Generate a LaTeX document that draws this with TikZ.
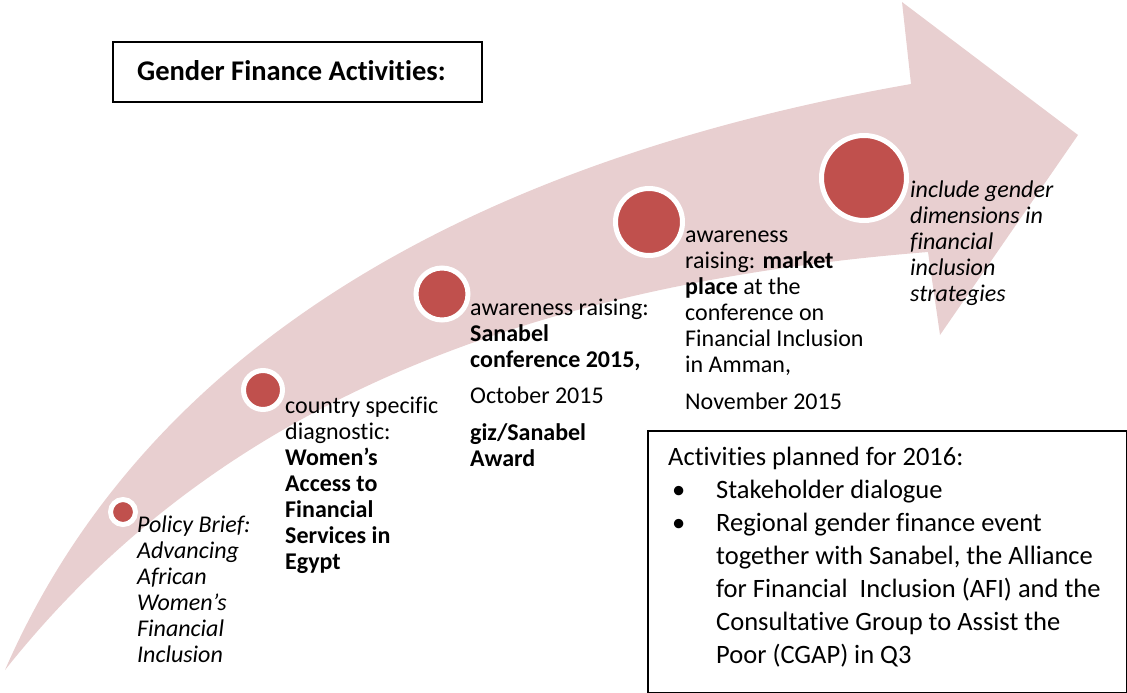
\documentclass[tikz,border=0pt]{standalone}
\usepackage{fontspec}
\setmainfont{Carlito}[Ligatures=NoCommon]
\definecolor{bandpink}{HTML}{E8CFD0}
\definecolor{dotred}{HTML}{C0504D}
\newcommand{\stack}[1]{\begin{tabular}[t]{@{}l@{}}#1\end{tabular}}
\begin{document}
\begin{tikzpicture}[x=1pt,y=-1pt,
  lbl/.style={anchor=base west, inner sep=0pt, font=\fontsize{24}{26}\selectfont},
  dot/.style={circle, fill=dotred, draw=white, inner sep=0pt},
  frame/.style={draw=black, line width=2pt, inner sep=0pt, anchor=north west},
]
\useasboundingbox (0,0) rectangle (1127,693);

% curved arrow band
\fill[bandpink] (5,670) .. controls (140,360) and (450,165) .. (911,84)
  -- (902,2) -- (1078,135) -- (940,335) -- (928,252)
  .. controls (450,290) and (180,450) .. (5,670) -- cycle;

% title box
\node[frame, minimum width=369pt, minimum height=60pt] (titlebox) at (112,41) {};
\node[anchor=base west, inner sep=0pt, font=\fontsize{28.5}{34}\selectfont\bfseries] (title) at (137,81) {Gender Finance Activities:};

% milestones along the arrow
\node[dot, minimum size=25pt, line width=5pt] (m1) at (123,512) {};
\node[dot, minimum size=39pt, line width=5pt] (m2) at (263,390) {};
\node[dot, minimum size=52pt, line width=5pt] (m3) at (442,294) {};
\node[dot, minimum size=67pt, line width=5pt] (m4) at (649,222) {};
\node[dot, minimum size=85pt, line width=5pt] (m5) at (864,178) {};

% milestone labels
\node[lbl, font=\fontsize{24}{26}\selectfont\itshape] (t1) at (137,532)
  {\stack{Policy Brief:\\Advancing\\African\\Women’s\\Financial\\Inclusion}};
\node[lbl] (t2) at (285,413)
  {\stack{country specific\\diagnostic:\\\textbf{Women’s}\\\textbf{Access to}\\\textbf{Financial}\\\textbf{Services in}\\\textbf{Egypt}}};
\node[lbl] (t3) at (470,315)
  {\stack{awareness raising:\\\textbf{Sanabel}\\\textbf{conference 2015,}\\[10pt]October 2015\\[11pt]\textbf{giz/Sanabel}\\\textbf{Award}}};
\node[lbl] (t4) at (685,242)
  {\stack{awareness\\raising: \textbf{market}\\\textbf{place} at the\\conference on\\Financial Inclusion\\in Amman,\\[11pt]November 2015}};
\node[lbl, font=\fontsize{24}{26}\selectfont\itshape] (t5) at (910,197)
  {\stack{include gender\\dimensions in\\financial\\inclusion\\strategies}};

% plans box
\node[frame, minimum width=479pt, minimum height=262pt] (planbox) at (647,430) {};
\node[anchor=base west, inner sep=0pt, font=\fontsize{26.5}{33}\selectfont] (plans) at (668,465)
  {\begin{tabular}[t]{@{}p{48pt}@{}l@{}}
   \multicolumn{2}{@{}l@{}}{Activities planned for 2016:}\\
   \hspace{4pt}\textbullet & Stakeholder dialogue\\
   \hspace{4pt}\textbullet & Regional gender finance event\\
   & together with Sanabel, the Alliance\\
   & for Financial\ \ Inclusion (AFI) and the\\
   & Consultative Group to Assist the\\
   & Poor (CGAP) in Q3
   \end{tabular}};
\end{tikzpicture}
\end{document}
